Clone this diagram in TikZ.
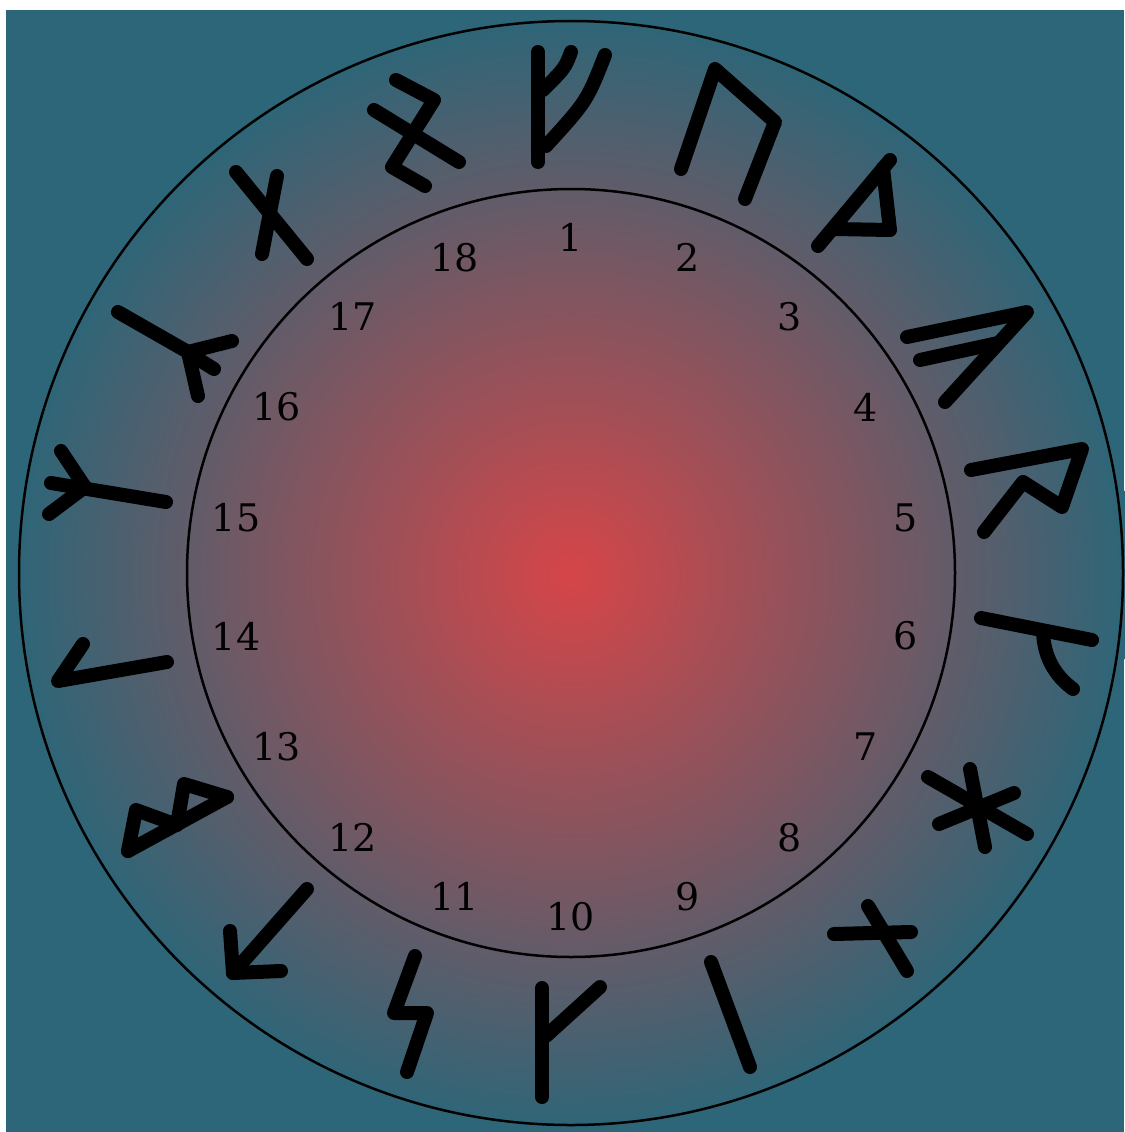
\documentclass[tikz,border=0pt]{standalone}
\usepackage{fontspec}
\setmainfont{DejaVu Serif}
\definecolor{bgteal}{HTML}{2C6678}
\definecolor{centerred}{HTML}{D64548}
\pgfdeclareradialshading{runeglow}{\pgfpointorigin}{color(0bp)=(centerred); color(25bp)=(bgteal); color(50bp)=(bgteal)}
\begin{document}
\begin{tikzpicture}[x=1pt,y=-1pt,
  rune/.style={line width=14pt, line cap=round, line join=round, black},
  ring/.style={line width=2.5pt, black},
  numlabel/.style={font=\fontsize{38}{46}\selectfont, text=black, inner sep=0pt}]
\useasboundingbox (0,0) rectangle (1124,1132);
\fill[white] (0,0) rectangle (1124,1132);
\fill[bgteal] (6,10) rectangle (1124,1132);
\shade[shading=runeglow] (571,575) circle[radius=560];
\draw[ring] (571,573) circle[radius=552];
\draw[ring] (571,573) circle[radius=384];
\foreach \i in {1,...,18}
  \node[numlabel] (n\i) at ({571+340*cos(90-20*(\i-1))},{577-340*sin(90-20*(\i-1))}) {\i};
% 1 Fa
\draw[rune] (538,52) -- (538,162);
\draw[rune] (571,52) .. controls (565,68) .. (543,90);
\draw[rune] (605,55) .. controls (587,101) .. (546,146);
% 2 Ur
\draw[rune] (681,169) -- (715,69) -- (775,122) -- (745,199);
% 3 Thorn
\draw[rune] (818,246) -- (890,160);
\draw[rune] (883,168) -- (890,230) -- (834,229);
% 4 Os
\draw[rune] (907,337) -- (1027,312) -- (945,402);
\draw[rune] (920,360) -- (998,343);
% 5 Rit
\draw[rune] (971,470) -- (1082,449) -- (1062,507) -- (1023,482) -- (984,532);
% 6 Ka
\draw[rune] (981,618) -- (1092,640);
\draw[rune] (1043,632) .. controls (1044,656) and (1054,675) .. (1073,689);
% 7 Hagal
\draw[rune] (970,769) -- (985,847);
\draw[rune] (928,777) -- (1027,834);
\draw[rune] (939,824) -- (1014,793);
% 8 Not
\draw[rune] (868,906) -- (907,971);
\draw[rune] (834,934) -- (911,932);
% 9 Is
\draw[rune] (711,962) -- (750,1067);
% 10 Ar
\draw[rune] (542,988) -- (542,1097);
\draw[rune] (546,1036) -- (600,987);
% 11 Sig
\draw[rune] (415,956) -- (394,1013) -- (427,1013) -- (407,1072);
% 12 Tyr
\draw[rune] (307,889) -- (233,973);
\draw[rune] (230,931) -- (233,973) -- (281,971);
% 13 Bar
\draw[rune] (128,851) -- (227,797);
\draw[rune] (128,851) -- (136,810) -- (177,825) -- (184,784) -- (227,797);
% 14 Laf
\draw[rune] (83,644) -- (58,681) -- (167,662);
% 15 Man
\draw[rune] (51,483) -- (166,502);
\draw[rune] (61,451) -- (85,487) -- (49,514);
% 16 Yr
\draw[rune] (118,312) -- (188,352) -- (198,396);
\draw[rune] (188,352) -- (232,341);
\draw[rune] (190,354) -- (214,369);
% 17 Eh
\draw[rune] (236,172) -- (307,259);
\draw[rune] (277,176) -- (262,254);
% 18 Gibor
\draw[rune] (396,80) -- (434,100) -- (392,167) -- (425,186);
\draw[rune] (374,110) -- (459,162);
\end{tikzpicture}
\end{document}
